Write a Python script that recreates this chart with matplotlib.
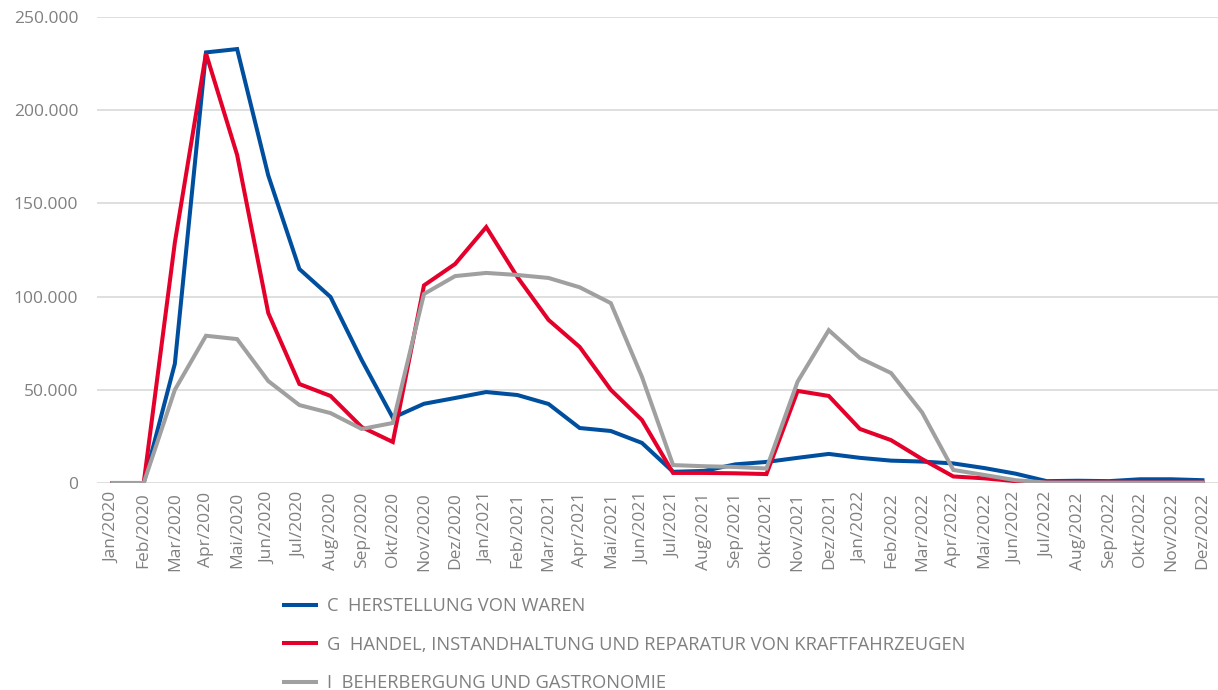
import matplotlib
matplotlib.use("Agg")
import matplotlib.pyplot as plt
from matplotlib.ticker import FuncFormatter

months = ["Jan", "Feb", "Mar", "Apr", "Mai", "Jun", "Jul", "Aug", "Sep", "Okt", "Nov", "Dez"]
years = [2020, 2021, 2022]
labels = [f"{m}/{y}" for y in years for m in months]

series_names = [
    "C  HERSTELLUNG VON WAREN",
    "G  HANDEL, INSTANDHALTUNG UND REPARATUR VON KRAFTFAHRZEUGEN",
    "I  BEHERBERGUNG UND GASTRONOMIE",
]

c_values = [0, 0, 64000, 231000, 232800, 165000, 114800, 99800, 66000, 35000, 42500, 45600,
            48800, 47200, 42400, 29500, 27900, 21500, 6000, 6500, 10000, 11300, 13500, 15600,
            13500, 12000, 11500, 10500, 8000, 5000, 1000, 1200, 1000, 2000, 2000, 1500]
g_values = [0, 0, 129000, 230500, 176000, 91200, 53100, 46700, 30000, 22000, 106000, 117500,
            137300, 110500, 87500, 73000, 50000, 33800, 5400, 5400, 5200, 4800, 49400, 46700,
            29000, 23000, 12800, 3500, 2500, 1000, 300, 300, 300, 300, 300, 300]
i_values = [0, 0, 50000, 79000, 77200, 54700, 41800, 37500, 29000, 32200, 101400, 111000,
            112700, 111600, 110000, 105000, 96500, 57000, 9600, 9000, 8600, 7800, 54400, 82000,
            67000, 59000, 37800, 7000, 4300, 1500, 200, 200, 200, 200, 200, 200]

colors = ["#004f9f", "#e4002b", "#a0a0a0"]
text_color = "#808080"

plt.rcParams['font.family'] = ['Open Sans', 'DejaVu Sans']

fig = plt.figure(figsize=(12.18, 6.90), dpi=100)
ax = fig.add_axes([97 / 1218, 1 - 483 / 690, 1 - 97 / 1218, (483 - 17) / 690])

x = list(range(len(labels)))
lines = []
for vals, col, name in zip([c_values, g_values, i_values], colors, series_names):
    ln, = ax.plot(x, vals, color=col, linewidth=2.9, label=name, solid_joinstyle='miter')
    lines.append(ln)

ax.set_xlim(-0.5, 35.5)
ax.set_ylim(0, 250000)
ax.set_yticks([0, 50000, 100000, 150000, 200000, 250000])
ax.yaxis.set_major_formatter(FuncFormatter(lambda v, p: f"{int(v):,}".replace(",", ".")))
ax.set_xticks(x)
ax.set_xticklabels(labels, rotation=90)
ax.tick_params(axis='both', length=0, labelcolor=text_color, labelsize=12.5)
ax.tick_params(axis='y', pad=13.5)
ax.tick_params(axis='x', pad=6.5)
for s in ax.spines.values():
    s.set_visible(False)
ax.grid(axis='y', color="#d9d9d9", linewidth=1.2)
ax.set_axisbelow(True)

leg = fig.legend(handles=lines, loc='upper left', bbox_to_anchor=(284 / 1218, 1 - 597 / 690),
                 frameon=False, fontsize=13.2, handlelength=1.75, handletextpad=0.62,
                 labelspacing=1.12, borderaxespad=0, borderpad=0)
for t in leg.get_texts():
    t.set_color(text_color)

fig.savefig("out.png", dpi=100)
